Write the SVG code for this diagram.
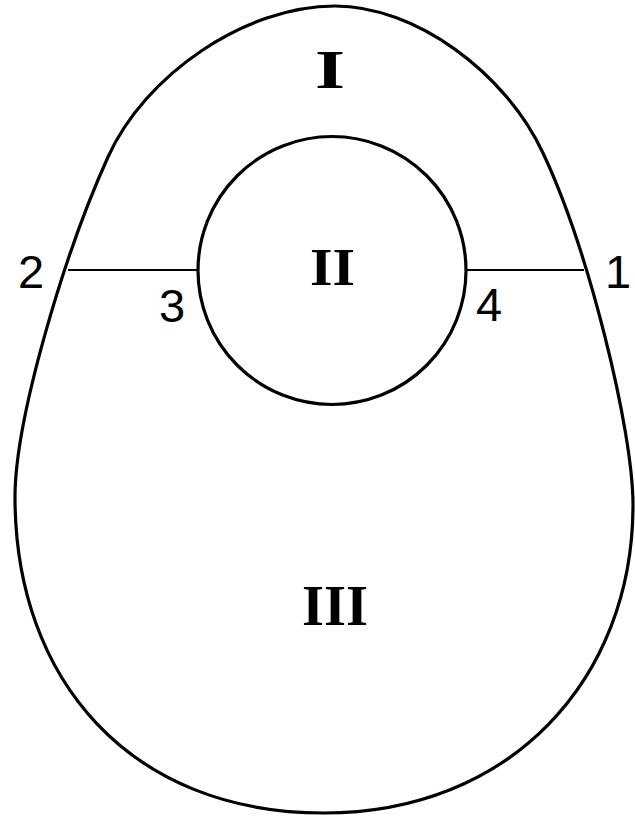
<svg xmlns="http://www.w3.org/2000/svg" width="635" height="816" viewBox="0 0 635 816">
<style>
.outline{fill:none;stroke:#000;stroke-width:3.2;stroke-linejoin:round}
.thin{fill:none;stroke:#000;stroke-width:2.2}
.num{font-family:"Liberation Sans",Arial,sans-serif;font-size:47px;fill:#000;text-anchor:middle}
.rom{font-family:"Liberation Serif","Times New Roman",serif;font-weight:bold;fill:#000}
</style>
<rect width="635" height="816" fill="#fff"/>
<g id="outer">
<path class="outline" d="M335,6 C245,6 145,75 108,157 C63.6,255 15,420 15,497 C15,680 130,813 324,813 C510,813 633,680 633,505 C633,430 588.6,250 543,153 C505,72 415,6 335,6 Z"/>
</g>
<g id="connectors">
<line class="thin" x1="68" y1="270" x2="198" y2="270"/>
<line class="thin" x1="466" y1="270" x2="584" y2="270"/>
</g>
<g id="inner">
<circle class="outline" cx="332" cy="270.5" r="134"/>
</g>
<g id="labels">
<text class="rom" x="315" y="88" font-size="54" textLength="30" lengthAdjust="spacingAndGlyphs">I</text>
<text class="rom" x="310" y="285" font-size="53" textLength="45" lengthAdjust="spacingAndGlyphs">II</text>
<text class="rom" x="302" y="625" font-size="57" textLength="66" lengthAdjust="spacingAndGlyphs">III</text>
<text class="num" x="31" y="288">2</text>
<text class="num" x="172" y="322">3</text>
<text class="num" x="489" y="321">4</text>
<text class="num" x="618" y="288">1</text>
</g>
</svg>
